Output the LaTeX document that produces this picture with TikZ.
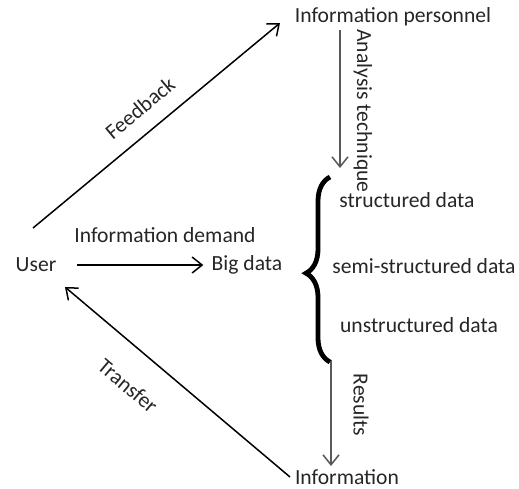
\documentclass[tikz,border=0pt]{standalone}
\usepackage{fontspec}
\setmainfont{Carlito}
\usetikzlibrary{arrows.meta,decorations.pathreplacing}
\begin{document}
\begin{tikzpicture}[x=0.5pt,y=-0.5pt,
  lbl/.style={font=\fontsize{10.8}{12}\selectfont, text=black!85, inner sep=1pt},
  arr/.style={line width=0.75pt, -{Straight Barb[length=5pt,width=8pt,line width=0.75pt]}},
  garr/.style={arr, draw=black!65},
]
\useasboundingbox (0,0) rectangle (519,488);
% nodes
\node[lbl] (user) at (36,265) {User};
\node[lbl] (big) at (247,265) {Big data};
\node[lbl] (infop) at (393,17) {Information personnel};
\node[lbl] (info) at (347,477) {Information};
\node[lbl] (s1) at (407,200) {structured data};
\node[lbl] (s2) at (424,266) {semi-structured data};
\node[lbl] (s3) at (419,325) {unstructured data};
\node[lbl] (demand) at (165,235) {Information demand};
% helper coordinates
\coordinate (fbs) at (33,228);
\coordinate (fbe) at (280,23);
\coordinate (trs) at (290,477);
\coordinate (tre) at (65,287);
\coordinate (uds) at (77,265);
\coordinate (ans) at (340,30);
\coordinate (ane) at (340,168);
\coordinate (res) at (331,360);
\coordinate (ree) at (331,466);
\coordinate (brt) at (330,177);
\coordinate (brb) at (330,362);
% arrows
\draw[arr] (fbs) -- (fbe);
\node[lbl, rotate=39.7] (fbl) at (140,108) {Feedback};
\draw[arr] (trs) -- (tre);
\node[lbl, rotate=-40.2] (trl) at (128,386) {Transfer};
\draw[arr, shorten >=3pt] (uds) -- (big.west);
\draw[garr] (ans) -- (ane);
\draw[garr] (res) -- (ree);
\node[lbl, rotate=-90] (anl) at (363,111) {Analysis technique};
\node[lbl, rotate=-90] (rel) at (361,405) {Results};
% brace
\draw[line width=2.4pt, decorate, decoration={brace, amplitude=12pt, aspect=0.48}] (brb) -- (brt);
\end{tikzpicture}
\end{document}
